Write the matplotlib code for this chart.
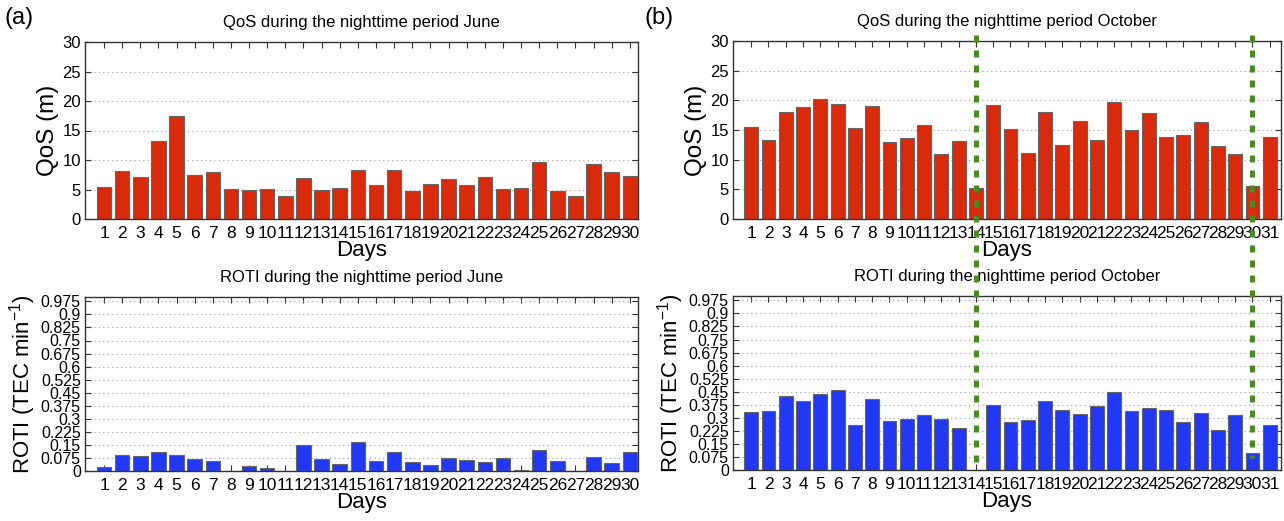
import numpy as np
import matplotlib
matplotlib.use("Agg")
import matplotlib.pyplot as plt
from matplotlib.lines import Line2D
from matplotlib.transforms import blended_transform_factory

plt.rcParams['font.family'] = ['Liberation Sans', 'DejaVu Sans']

# QoS (m) per night, June and October
qos_june = [5.5, 8.2, 7.1, 13.3, 17.5, 7.5, 7.9, 5.1, 4.9, 5.1,
            3.9, 7.0, 5.0, 5.3, 8.3, 5.7, 8.3, 4.8, 6.0, 6.8,
            5.8, 7.1, 5.1, 5.3, 9.6, 4.7, 3.9, 9.3, 7.9, 7.3]
qos_oct = [15.5, 13.3, 18.0, 18.8, 20.3, 19.3, 15.3, 19.0, 13.0, 13.6,
           15.9, 11.0, 13.2, 5.2, 19.2, 15.1, 11.2, 18.1, 12.4, 16.6,
           13.3, 19.7, 15.0, 17.9, 13.9, 14.2, 16.4, 12.3, 10.9, 5.5, 13.8]

# ROTI (TEC/min) per night
roti_june = [0.023, 0.090, 0.085, 0.110, 0.094, 0.070, 0.057, 0.0, 0.030, 0.017,
             0.0, 0.147, 0.068, 0.038, 0.164, 0.057, 0.111, 0.051, 0.036, 0.074,
             0.066, 0.053, 0.074, 0.006, 0.119, 0.055, 0.0, 0.079, 0.047, 0.110]
roti_oct = [0.333, 0.338, 0.425, 0.397, 0.439, 0.457, 0.257, 0.406, 0.282, 0.295,
            0.318, 0.293, 0.242, 0.0, 0.374, 0.276, 0.289, 0.399, 0.346, 0.319,
            0.370, 0.446, 0.338, 0.355, 0.346, 0.278, 0.329, 0.229, 0.316, 0.100, 0.257]

# days marked with vertical dashed lines in October
marked_days = [14, 30]

qos_ticks = np.arange(0, 31, 5)
roti_ticks = np.round(np.arange(0, 1.0, 0.075), 3)

red = '#d92a0b'
blue = '#2139f5'
green = '#4a8a22'


def bar_panel(ax, vals, color, ylim, yticks, ylabel, title, xmax,
              ylab_size, ytick_size):
    days = np.arange(1, len(vals) + 1)
    ax.bar(days, vals, width=0.8, color=color, edgecolor='#666666',
           linewidth=0.8, zorder=2)
    ax.set_xlim(-0.05, xmax)
    ax.set_ylim(*ylim)
    ax.set_xticks(days)
    ax.set_xticklabels([str(d) for d in days], fontsize=12.5)
    ax.set_yticks(yticks)
    ax.set_yticklabels([('%g' % t) for t in yticks], fontsize=ytick_size)
    ax.tick_params(direction='in', top=True, right=True, length=4,
                   pad=3, color='#333333')
    ax.tick_params(axis='x', pad=5)
    ax.yaxis.grid(True, linestyle=(0, (1, 3)), color='#999999',
                  linewidth=0.8, zorder=0)
    ax.set_axisbelow(True)
    for sp in ax.spines.values():
        sp.set_color('#333333')
        sp.set_linewidth(1.0)
    ax.set_xlabel("Days", fontsize=16, labelpad=-1)
    ax.set_ylabel(ylabel, fontsize=ylab_size, labelpad=2)
    ax.set_title(title, fontsize=12, pad=11)


fig = plt.figure(figsize=(12.84, 5.21), dpi=100)
W, H = 1284.0, 521.0


def px_axes(l, t, r, b):
    return fig.add_axes([l / W, 1 - b / H, (r - l) / W, (b - t) / H])


ax1 = px_axes(85, 42, 638, 219)
ax2 = px_axes(733, 41, 1281, 219)
ax3 = px_axes(85, 297, 638, 471)
ax4 = px_axes(733, 296, 1281, 470)

roti_label = "ROTI (TEC min$^{\\mathregular{-1}}$)"
bar_panel(ax1, qos_june, red, (0, 30), qos_ticks, "QoS (m)",
          "QoS during the nighttime period June", 30.45, 17.5, 12)
bar_panel(ax2, qos_oct, red, (0, 30), qos_ticks, "QoS (m)",
          "QoS during the nighttime period October", 31.65, 17.5, 12)
bar_panel(ax3, roti_june, blue, (0, 1.0), roti_ticks, roti_label,
          "ROTI during the nighttime period June", 30.45, 16, 11.5)
bar_panel(ax4, roti_oct, blue, (0, 1.0), roti_ticks, roti_label,
          "ROTI during the nighttime period October", 31.65, 16, 11.5)

fig.text(5 / W, 1 - 18 / H, "(a)", fontsize=17, va='center', ha='left')
fig.text(645 / W, 1 - 18 / H, "(b)", fontsize=17, va='center', ha='left')

# dashed markers crossing both October panels
tr = blended_transform_factory(ax2.transData, fig.transFigure)
ends = [470, 458]
for d, yb in zip(marked_days, ends):
    ln = Line2D([d, d], [1 - 35 / H, 1 - yb / H], transform=tr, color=green,
                linewidth=3.6, dashes=(1.4, 1.6), solid_capstyle='butt',
                dash_capstyle='butt', zorder=10)
    fig.add_artist(ln)

fig.savefig("out.png", dpi=100)
